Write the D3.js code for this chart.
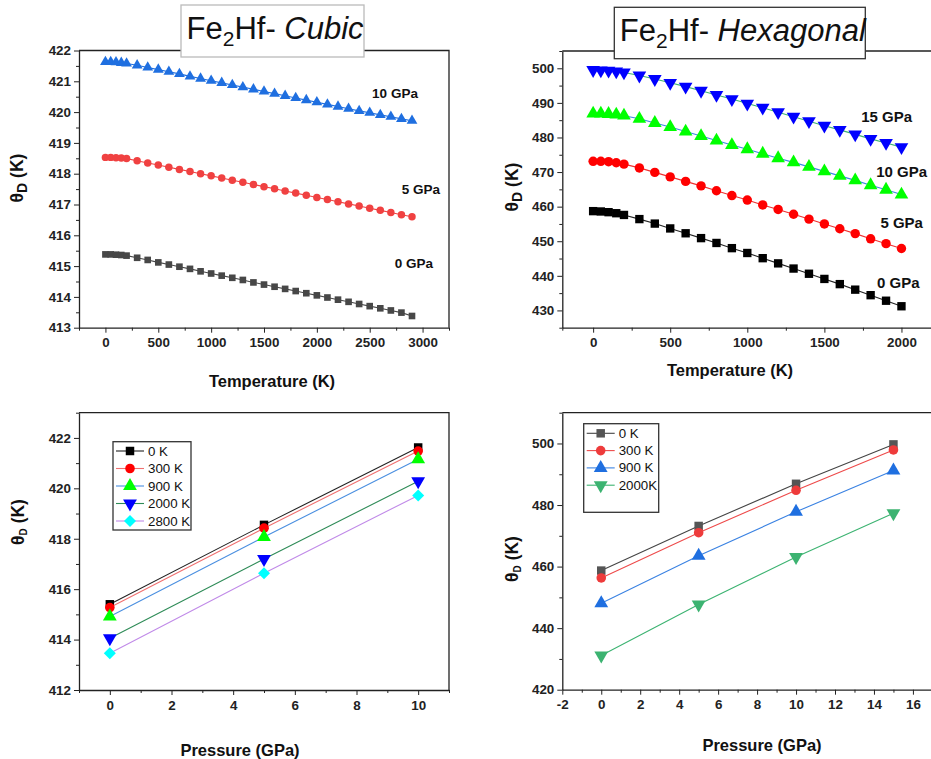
<!DOCTYPE html>
<html>
<head>
<meta charset="utf-8">
<script src="https://cdn.jsdelivr.net/npm/d3@7"></script>
<style>
  html, body { margin: 0; padding: 0; background: #fff; }
  svg { display: block; font-family: 'Liberation Sans', Arial, sans-serif; }
  .axis .tick text { font-weight: bold; font-size: 13.4px; fill: #222; }
  .axis .tick line, .axis .domain { stroke: #222; }
</style>
</head>
<body>
<svg id="chart" width="931" height="759"></svg>
<script>
// ---- Fe2Hf cubic: Debye temperature vs temperature ----
const cubicTemps = [0, 50, 100, 150, 200, 300, 400, 500, 600, 700, 800, 900, 1000, 1100, 1200, 1300,
  1400, 1500, 1600, 1700, 1800, 1900, 2000, 2100, 2200, 2300, 2400, 2500, 2600, 2700, 2800, 2900];
const cubic0GPa = [415.38, 415.38, 415.37, 415.36, 415.34, 415.27, 415.2, 415.12, 415.05, 414.98, 414.91,
  414.83, 414.76, 414.69, 414.62, 414.55, 414.47, 414.4, 414.33, 414.26, 414.19, 414.12, 414.05, 413.98,
  413.91, 413.84, 413.77, 413.7, 413.63, 413.56, 413.49, 413.38];
const cubic5GPa = [418.53, 418.53, 418.52, 418.51, 418.49, 418.42, 418.35, 418.28, 418.21, 418.14, 418.07,
  418.0, 417.93, 417.86, 417.79, 417.72, 417.65, 417.58, 417.51, 417.44, 417.37, 417.3, 417.23, 417.16,
  417.09, 417.02, 416.95, 416.88, 416.81, 416.74, 416.67, 416.6];
const cubic10GPa = [421.63, 421.63, 421.62, 421.6, 421.58, 421.52, 421.45, 421.38, 421.31, 421.24, 421.16,
  421.09, 421.02, 420.95, 420.88, 420.81, 420.74, 420.67, 420.6, 420.53, 420.46, 420.39, 420.32, 420.25,
  420.18, 420.11, 420.04, 419.98, 419.91, 419.85, 419.78, 419.72];

// ---- Fe2Hf hexagonal: Debye temperature vs temperature ----
const hexTemps = [0, 50, 100, 150, 200, 300, 400, 500, 600, 700, 800, 900, 1000, 1100, 1200, 1300, 1400,
  1500, 1600, 1700, 1800, 1900, 2000];
const hex0GPa = [458.7, 458.6, 458.4, 458.1, 457.6, 456.4, 455.1, 453.7, 452.3, 450.9, 449.5, 448.0, 446.6,
  445.1, 443.6, 442.1, 440.6, 439.1, 437.6, 436.0, 434.4, 432.8, 431.2];
const hex5GPa = [473.1, 473.1, 473.0, 472.7, 472.3, 471.2, 469.9, 468.6, 467.3, 466.0, 464.6, 463.2, 461.9,
  460.5, 459.2, 457.8, 456.4, 455.0, 453.6, 452.2, 450.7, 449.3, 447.9];
const hex10GPa = [486.9, 486.9, 486.8, 486.6, 486.3, 485.4, 484.2, 483.0, 481.7, 480.4, 479.1, 477.8, 476.6,
  475.3, 474.0, 472.8, 471.5, 470.2, 468.9, 467.6, 466.2, 464.9, 463.5];
const hex15GPa = [499.5, 499.4, 499.3, 499.1, 498.8, 497.9, 496.9, 495.8, 494.7, 493.5, 492.3, 491.1, 489.8,
  488.6, 487.3, 486.0, 484.7, 483.4, 482.2, 480.9, 479.6, 478.4, 477.2];

// ---- Debye temperature vs pressure ----
const cubicPressures = [0, 5, 10];
const cubicAt0K = [415.4, 418.55, 421.62];
const cubicAt300K = [415.27, 418.42, 421.48];
const cubicAt900K = [414.92, 418.07, 421.15];
const cubicAt2000K = [414.05, 417.2, 420.28];
const cubicAt2800K = [413.46, 416.63, 419.72];

const hexPressures = [0, 5, 10, 15];
const hexAt0K = [458.7, 473.2, 486.9, 499.7];
const hexAt300K = [456.3, 471.0, 484.8, 497.9];
const hexAt900K = [448.1, 463.5, 477.8, 491.2];
const hexAt2000K = [431.1, 447.7, 463.1, 477.3];

// ---- ticks ----
const cubicTempTicks = [0, 500, 1000, 1500, 2000, 2500, 3000];
const cubicTempMinor = [-250, 250, 750, 1250, 1750, 2250, 2750, 3250];
const cubicThetaTicks = [413, 414, 415, 416, 417, 418, 419, 420, 421, 422];
const cubicThetaMinor = [413.5, 414.5, 415.5, 416.5, 417.5, 418.5, 419.5, 420.5, 421.5];
const hexTempTicks = [0, 500, 1000, 1500, 2000];
const hexTempMinor = [-200, 250, 750, 1250, 1750, 2200];
const hexThetaTicks = [430, 440, 450, 460, 470, 480, 490, 500];
const hexThetaMinor = [425, 435, 445, 455, 465, 475, 485, 495, 505];
const cubicPressTicks = [0, 2, 4, 6, 8, 10];
const cubicPressMinor = [-1, 1, 3, 5, 7, 9, 11];
const cubicPThetaTicks = [412, 414, 416, 418, 420, 422];
const cubicPThetaMinor = [413, 415, 417, 419, 421, 423];
const hexPressTicks = [-2, 0, 2, 4, 6, 8, 10, 12, 14, 16];
const hexPressMinor = [-1, 1, 3, 5, 7, 9, 11, 13, 15, 17];
const hexPThetaTicks = [420, 440, 460, 480, 500];
const hexPThetaMinor = [430, 450, 470, 490, 510];

const svg = d3.select('#chart');

const shapes = {
  square: { type: d3.symbolSquare, rotate: 0, scale: 1 },
  circle: { type: d3.symbolCircle, rotate: 0, scale: 1 },
  triangle: { type: d3.symbolTriangle, rotate: 0, scale: 1.15 },
  triangleDown: { type: d3.symbolTriangle, rotate: 180, scale: 1.15 },
  diamond: { type: d3.symbolSquare, rotate: 45, scale: 1 }
};

// plain hyphen for negatives, like the original plot
const fmt = (d) => String(d);

function marker(sel, shape, size, color, cx, cy) {
  const s = shapes[shape];
  sel.append('path')
    .attr('d', d3.symbol(s.type, size * s.scale)())
    .attr('transform', `translate(${cx},${cy}) rotate(${s.rotate})`)
    .attr('fill', color);
}

function thetaLabel(g, cx, cy, size, subSize) {
  const t = g.append('text')
    .attr('transform', `translate(${cx},${cy}) rotate(-90)`)
    .attr('text-anchor', 'middle')
    .attr('dominant-baseline', 'central')
    .attr('font-weight', 'bold')
    .attr('font-size', size)
    .attr('fill', '#111');
  t.append('tspan').text('θ');
  t.append('tspan').attr('font-size', subSize).attr('dy', size * 0.28).text('D');
  t.append('tspan').attr('dy', -size * 0.28).text(' (K)');
}

function drawPanel(cfg) {
  const g = svg.append('g');
  const x = d3.scaleLinear().domain(cfg.xDomain).range([cfg.left, cfg.right]);
  const y = d3.scaleLinear().domain(cfg.yDomain).range([cfg.bottom, cfg.top]);

  g.append('path')
    .attr('d', `M${cfg.left},${cfg.top}H${cfg.right}V${cfg.bottom}`)
    .attr('fill', 'none').attr('stroke', '#222').attr('stroke-width', 1.3);

  g.append('g').attr('class', 'axis')
    .attr('transform', `translate(0,${cfg.bottom})`)
    .call(d3.axisBottom(x).tickValues(cfg.xMinor).tickSize(3).tickFormat(''))
    .call((a) => a.select('.domain').remove());
  g.append('g').attr('class', 'axis')
    .attr('transform', `translate(${cfg.left},0)`)
    .call(d3.axisLeft(y).tickValues(cfg.yMinor).tickSize(3).tickFormat(''))
    .call((a) => a.select('.domain').remove());

  g.append('g').attr('class', 'axis')
    .attr('transform', `translate(0,${cfg.bottom})`)
    .call(d3.axisBottom(x).tickValues(cfg.xTicks).tickSize(5).tickPadding(5).tickSizeOuter(0).tickFormat(fmt))
    .call((a) => a.select('.domain').attr('stroke-width', 1.3));
  g.append('g').attr('class', 'axis')
    .attr('transform', `translate(${cfg.left},0)`)
    .call(d3.axisLeft(y).tickValues(cfg.yTicks).tickSize(5).tickPadding(3).tickSizeOuter(0).tickFormat(fmt))
    .call((a) => a.select('.domain').attr('stroke-width', 1.3));

  const line = d3.line().x((d) => x(d[0])).y((d) => y(d[1]));
  cfg.series.forEach((s) => {
    const pts = s.xs.map((v, i) => [v, s.ys[i]]);
    g.append('path').datum(pts)
      .attr('d', line).attr('fill', 'none')
      .attr('stroke', s.line).attr('stroke-width', 1.1);
    const mg = g.append('g');
    pts.forEach((p) => marker(mg, s.shape, cfg.markerSize, s.color, x(p[0]), y(p[1])));
  });

  (cfg.labels || []).forEach((l) => {
    g.append('text').attr('x', l.x).attr('y', l.y)
      .attr('text-anchor', 'middle').attr('dominant-baseline', 'central')
      .attr('font-weight', 'bold').attr('font-size', cfg.labelSize).attr('fill', '#111')
      .text(l.text);
  });

  if (cfg.legend) {
    const L = cfg.legend;
    const lg = g.append('g');
    lg.append('rect').attr('x', L.x).attr('y', L.y).attr('width', L.w).attr('height', L.h)
      .attr('fill', '#fff').attr('stroke', '#333').attr('stroke-width', 1.3);
    cfg.series.forEach((s, i) => {
      const ry = L.y + L.first + i * L.step;
      lg.append('line').attr('x1', L.x + 3).attr('x2', L.x + 31).attr('y1', ry).attr('y2', ry)
        .attr('stroke', s.line).attr('stroke-width', 1.1);
      marker(lg, s.shape, cfg.markerSize, s.color, L.x + 17, ry);
      lg.append('text').attr('x', L.x + 35).attr('y', ry)
        .attr('dominant-baseline', 'central').attr('font-size', 13.3).attr('fill', '#111')
        .text(s.name);
    });
  }

  g.append('text').attr('x', cfg.xLabel.x).attr('y', cfg.xLabel.y)
    .attr('text-anchor', 'middle').attr('dominant-baseline', 'central')
    .attr('font-weight', 'bold').attr('font-size', 16.5).attr('fill', '#111')
    .text(cfg.xLabel.text);
  thetaLabel(g, cfg.yLabel.x, cfg.yLabel.y, cfg.yLabel.size, cfg.yLabel.sub);

  if (cfg.title) {
    const T = cfg.title;
    g.append('rect').attr('x', T.x).attr('y', T.y).attr('width', T.w).attr('height', T.h)
      .attr('fill', '#fff').attr('stroke', T.stroke).attr('stroke-width', 1.3);
    const t = g.append('text').attr('x', T.x + 5.5).attr('y', T.y + 34).attr('font-size', 31).attr('fill', '#111');
    t.append('tspan').text('Fe');
    t.append('tspan').attr('font-size', 21).attr('dy', 7).text('2');
    t.append('tspan').attr('dy', -7).text('Hf- ');
    t.append('tspan').attr('font-style', 'italic').text(T.text);
  }
}

drawPanel({
  left: 79, right: 449, top: 50.5, bottom: 327.7,
  xDomain: [-250, 3250], yDomain: [413, 422],
  xTicks: cubicTempTicks, xMinor: cubicTempMinor, yTicks: cubicThetaTicks, yMinor: cubicThetaMinor,
  markerSize: 44, labelSize: 13.5,
  series: [
    { name: '0 GPa', xs: cubicTemps, ys: cubic0GPa, color: '#474747', line: '#474747', shape: 'square' },
    { name: '5 GPa', xs: cubicTemps, ys: cubic5GPa, color: '#f04141', line: '#f04141', shape: 'circle' },
    { name: '10 GPa', xs: cubicTemps, ys: cubic10GPa, color: '#1f6fe0', line: '#1f6fe0', shape: 'triangle' }
  ],
  labels: [
    { text: '10 GPa', x: 395, y: 93 },
    { text: '5 GPa', x: 421, y: 189 },
    { text: '0 GPa', x: 414, y: 263 }
  ],
  xLabel: { text: 'Temperature (K)', x: 272, y: 381 },
  yLabel: { x: 17, y: 178, size: 17.5, sub: 14 },
  title: { text: 'Cubic', x: 181, y: 5, w: 183, h: 52, stroke: '#bbb' }
});

drawPanel({
  left: 562.3, right: 932.3, top: 51, bottom: 327.7,
  xDomain: [-200, 2200], yDomain: [425, 505],
  xTicks: hexTempTicks, xMinor: hexTempMinor, yTicks: hexThetaTicks, yMinor: hexThetaMinor,
  markerSize: 70, labelSize: 15,
  series: [
    { name: '0 GPa', xs: hexTemps, ys: hex0GPa, color: '#000', line: '#222', shape: 'square' },
    { name: '5 GPa', xs: hexTemps, ys: hex5GPa, color: '#ff0000', line: '#ee3030', shape: 'circle' },
    { name: '10 GPa', xs: hexTemps, ys: hex10GPa, color: '#00ff00', line: '#3a86e0', shape: 'triangle' },
    { name: '15 GPa', xs: hexTemps, ys: hex15GPa, color: '#0000ff', line: '#3cb371', shape: 'triangleDown' }
  ],
  labels: [
    { text: '15 GPa', x: 886.7, y: 116.7 },
    { text: '10 GPa', x: 901.7, y: 171.7 },
    { text: '5 GPa', x: 901.7, y: 222.7 },
    { text: '0 GPa', x: 898.3, y: 282.7 }
  ],
  xLabel: { text: 'Temperature (K)', x: 730, y: 370 },
  yLabel: { x: 512, y: 187, size: 17.5, sub: 14 },
  title: { text: 'Hexagonal', x: 614.3, y: 7.3, w: 251, h: 51.4, stroke: '#333' }
});

drawPanel({
  left: 79, right: 449, top: 412.7, bottom: 690,
  xDomain: [-1, 11], yDomain: [412, 423],
  xTicks: cubicPressTicks, xMinor: cubicPressMinor, yTicks: cubicPThetaTicks, yMinor: cubicPThetaMinor,
  markerSize: 72,
  series: [
    { name: '0 K', xs: cubicPressures, ys: cubicAt0K, color: '#000', line: '#222', shape: 'square' },
    { name: '300 K', xs: cubicPressures, ys: cubicAt300K, color: '#ff0000', line: '#f07070', shape: 'circle' },
    { name: '900 K', xs: cubicPressures, ys: cubicAt900K, color: '#00ff00', line: '#4a8fe0', shape: 'triangle' },
    { name: '2000 K', xs: cubicPressures, ys: cubicAt2000K, color: '#0000ff', line: '#2e8b57', shape: 'triangleDown' },
    { name: '2800 K', xs: cubicPressures, ys: cubicAt2800K, color: '#00ffff', line: '#c08ae8', shape: 'diamond' }
  ],
  legend: { x: 113, y: 441.7, w: 78, h: 88.3, first: 9.3, step: 17.5 },
  xLabel: { text: 'Pressure (GPa)', x: 240, y: 750 },
  yLabel: { x: 18, y: 522, size: 17.5, sub: 10 }
});

drawPanel({
  left: 562.3, right: 932.4, top: 412.7, bottom: 689.7,
  xDomain: [-2, 17], yDomain: [420, 510],
  xTicks: hexPressTicks, xMinor: hexPressMinor, yTicks: hexPThetaTicks, yMinor: hexPThetaMinor,
  markerSize: 72,
  series: [
    { name: '0 K', xs: hexPressures, ys: hexAt0K, color: '#555', line: '#444', shape: 'square' },
    { name: '300 K', xs: hexPressures, ys: hexAt300K, color: '#ee3b3b', line: '#ee4a4a', shape: 'circle' },
    { name: '900 K', xs: hexPressures, ys: hexAt900K, color: '#1f6fe0', line: '#3a82e2', shape: 'triangle' },
    { name: '2000K', xs: hexPressures, ys: hexAt2000K, color: '#3cb371', line: '#3cb371', shape: 'triangleDown' }
  ],
  legend: { x: 583.7, y: 423.7, w: 75, h: 88.6, first: 9.6, step: 17.3 },
  xLabel: { text: 'Pressure (GPa)', x: 762, y: 745 },
  yLabel: { x: 512, y: 559, size: 17.5, sub: 10 }
});
</script>
</body>
</html>
